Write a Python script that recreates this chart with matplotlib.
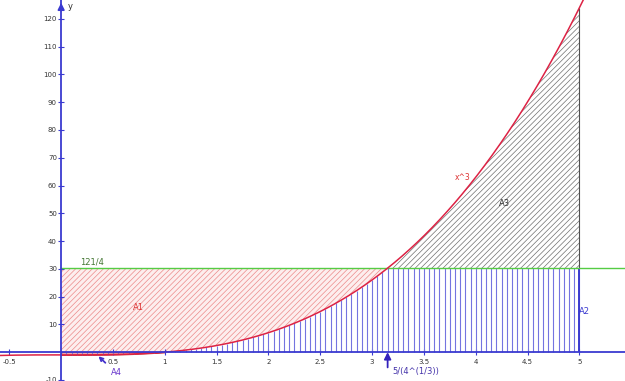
import numpy as np
import matplotlib
matplotlib.use("Agg")
import matplotlib.pyplot as plt

plt.rcParams['hatch.linewidth'] = 0.5

# data
x_ticks = [-0.5, 0.5, 1, 1.5, 2, 2.5, 3, 3.5, 4, 4.5, 5]
x_ticklabels = ["-0.5", "0.5", "1", "1.5", "2", "2.5", "3", "3.5", "4", "4.5", "5"]
y_ticks = [-10, 10, 20, 30, 40, 50, 60, 70, 80, 90, 100, 110, 120]
y_ticklabels = [str(v) for v in y_ticks]
level = 121 / 4
x_end = 5.0
x_cross = 5 / 4 ** (1 / 3)
bar_step = 0.05

def f(x):
    return x ** 3 - 1

axis_col = '#3a3ad0'
fig = plt.figure(figsize=(6.25, 3.81), dpi=100)
ax = fig.add_axes([0, 0, 1, 1])
ax.set_xlim(-0.59, 5.44)
ax.set_ylim(-10.4, 126.8)

ax.spines['left'].set_position(('data', 0))
ax.spines['bottom'].set_position(('data', 0))
ax.spines['right'].set_visible(False)
ax.spines['top'].set_visible(False)
for s in ('left', 'bottom'):
    ax.spines[s].set_color(axis_col)
    ax.spines[s].set_linewidth(1.3)
ax.set_xticks(x_ticks)
ax.set_xticklabels(x_ticklabels)
ax.set_yticks(y_ticks)
ax.set_yticklabels(y_ticklabels)
ax.tick_params(axis='both', direction='inout', length=4, width=0.8, colors=axis_col,
               labelsize=5, labelcolor='#333333', pad=1)
ax.tick_params(axis='x', pad=3)

# A1: between level and curve (curve below level) from 0 to crossing
xa = np.linspace(0, x_cross, 300)
ax.fill_between(xa, np.clip(f(xa), 0, None), level, facecolor='#fdeeee',
                edgecolor='#ec8a8a', hatch='//////', linewidth=0)
# A4: negative part
x4 = np.linspace(0, 1, 100)
ax.fill_between(x4, f(x4), 0, facecolor='#f6c0c0', edgecolor='#d03030', linewidth=0.8)
# A3: above level, below curve
x3 = np.linspace(x_cross, x_end, 300)
ax.fill_between(x3, level, f(x3), facecolor='white', edgecolor='#707070',
                hatch='//////', linewidth=0)

# A2 vertical bars
xb = np.arange(0, x_end + 1e-9, bar_step)
ax.vlines(xb, 0, np.minimum(f(xb), level), colors='#7474e0', linewidth=0.8)
ax.vlines([x_end], 0, level, colors=axis_col, linewidth=1.4)
ax.vlines([x_end], level, f(x_end), colors='#505050', linewidth=0.8)

# level line
ax.plot([0, 5.44], [level, level], color='#55cc44', linewidth=1.0)

# curve
xc = np.linspace(-0.59, 5.44, 500)
ax.plot(xc, f(xc), color='#dd2244', linewidth=1.1)

# axis arrow + y label
ax.annotate('', xy=(0, 126.8), xytext=(0, 122), arrowprops=dict(arrowstyle='-|>', color=axis_col, lw=1.2))
ax.text(0.06, 124.5, 'y', fontsize=6, color='#333333', ha='left', va='center')

# labels
ax.text(0.18, 32.5, '121/4', fontsize=6, color='#447733', ha='left', va='center')
ax.text(0.75, 16, 'A1', fontsize=6, color='#dd3333', ha='center', va='center')
ax.text(4.28, 53.5, 'A3', fontsize=6, color='#333333', ha='center', va='center')
ax.text(5.0, 14.5, 'A2', fontsize=6, color=axis_col, ha='left', va='center')
ax.text(3.87, 63, 'x^3', fontsize=5.5, color='#dd3333', ha='center', va='center')
ax.annotate('A4', xy=(0.36, -1.5), xytext=(0.53, -7.5), fontsize=6, color='#6633cc',
            ha='center', va='center',
            arrowprops=dict(arrowstyle='->', color='#4433cc', lw=1.3, shrinkA=3, shrinkB=0))
ax.annotate('5/(4^(1/3))', xy=(x_cross, 0), xytext=(x_cross + 0.27, -7), fontsize=6,
            color='#4433aa', ha='center', va='center')
ax.annotate('', xy=(x_cross, 0), xytext=(x_cross, -5.5),
            arrowprops=dict(arrowstyle='-|>', color='#3322bb', lw=1.3, shrinkA=0, shrinkB=0))

fig.savefig('out.png', dpi=100)
